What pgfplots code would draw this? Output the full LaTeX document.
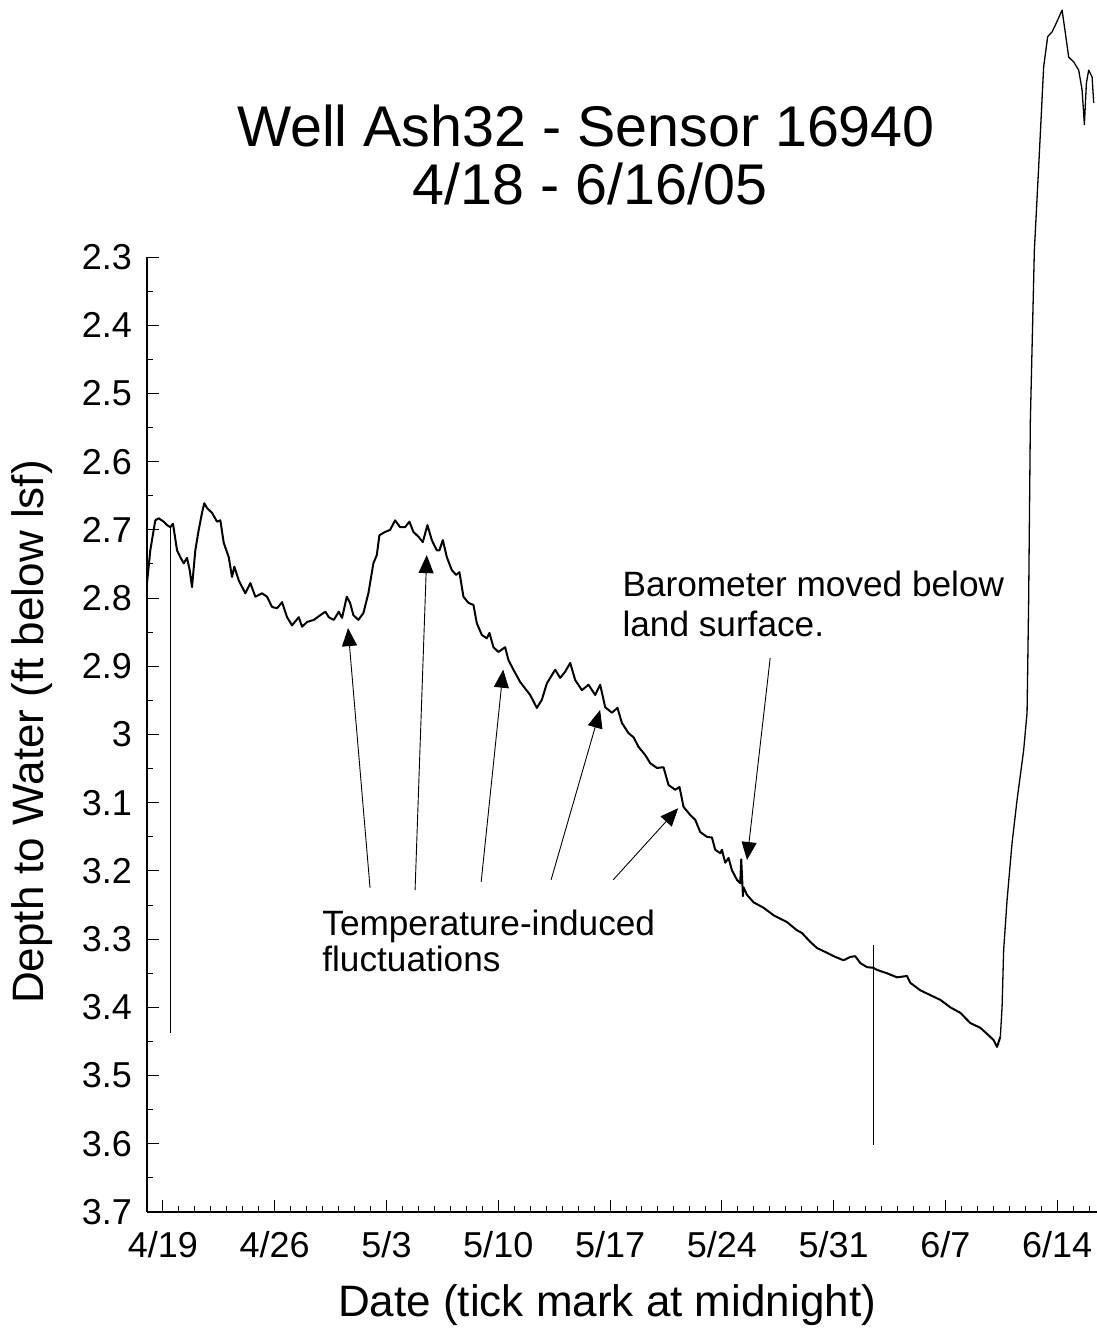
\documentclass[border=0pt]{standalone}
\usepackage{fontspec}
\setmainfont{Liberation Sans}
\usepackage{pgfplots}
\pgfplotsset{compat=1.18}
\usetikzlibrary{arrows.meta}

\begin{document}
\begin{tikzpicture}
\path[use as bounding box] (-73.5pt,-60.5pt) rectangle (475pt,606pt);
\begin{axis}[
  width=475pt, height=477.5pt, scale only axis,
  xmin=0, xmax=59.5, ymin=2.3, ymax=3.7, y dir=reverse,
  axis x line=bottom, axis y line=left,
  axis line style={-, line width=0.6pt},
  clip=false,
  xtick={1,8,15,22,29,36,43,50,57},
  xticklabels={4/19,4/26,5/3,5/10,5/17,5/24,5/31,6/7,6/14},
  minor xtick={0,...,59},
  ytick={2.3,2.4,2.5,2.6,2.7,2.8,2.9,3.0,3.1,3.2,3.3,3.4,3.5,3.6,3.7},
  yticklabels={2.3,2.4,2.5,2.6,2.7,2.8,2.9,3,3.1,3.2,3.3,3.4,3.5,3.6,3.7},
  minor ytick={2.35,2.45,2.55,2.65,2.75,2.85,2.95,3.05,3.15,3.25,3.35,3.45,3.55,3.65},
  tick align=inside,
  major tick length=6pt, minor tick length=3pt,
  every tick/.style={black, line width=0.5pt},
  tick label style={font=\fontsize{18}{20}\selectfont},
  yticklabel style={xshift=-4pt},
  xticklabel style={yshift=-6pt},
  /pgf/number format/assume math mode=true,
]
% noisy record up to the low point on 6/10
\addplot[black, line width=1.0pt, line join=round] table {
0 2.778
0.207 2.730
0.52 2.686
0.733 2.683
1.046 2.688
1.253 2.693
1.46 2.696
1.629 2.691
1.88 2.730
2.086 2.740
2.3 2.749
2.506 2.741
2.675 2.759
2.82 2.784
3.026 2.730
3.24 2.700
3.446 2.675
3.59 2.661
3.76 2.668
4.073 2.675
4.386 2.688
4.593 2.686
4.806 2.719
5.119 2.740
5.326 2.769
5.47 2.754
5.746 2.774
6.159 2.793
6.473 2.778
6.786 2.798
7.206 2.793
7.519 2.798
7.832 2.813
8.145 2.815
8.459 2.806
8.772 2.828
9.085 2.840
9.505 2.828
9.712 2.842
10.025 2.835
10.445 2.832
10.858 2.825
11.172 2.820
11.385 2.828
11.698 2.832
12.011 2.820
12.218 2.829
12.512 2.798
12.719 2.807
12.926 2.825
13.239 2.832
13.553 2.822
13.866 2.793
14.179 2.749
14.392 2.737
14.555 2.708
14.912 2.703
15.226 2.700
15.539 2.686
15.852 2.696
16.165 2.696
16.435 2.688
16.685 2.703
16.999 2.710
17.274 2.718
17.563 2.693
17.838 2.715
18.151 2.730
18.315 2.730
18.527 2.715
18.778 2.740
19.091 2.759
19.361 2.766
19.568 2.762
19.818 2.798
20.132 2.807
20.445 2.810
20.658 2.837
20.971 2.854
21.284 2.859
21.447 2.851
21.698 2.872
22.011 2.879
22.431 2.872
22.638 2.891
22.951 2.905
23.37 2.923
23.997 2.942
24.417 2.961
24.73 2.949
25.044 2.925
25.564 2.905
25.877 2.917
26.19 2.908
26.504 2.895
26.817 2.920
27.237 2.935
27.65 2.927
28.07 2.942
28.383 2.927
28.697 2.960
29.117 2.968
29.467 2.961
29.743 2.983
30.156 2.998
30.47 3.004
30.783 3.018
31.203 3.030
31.516 3.042
31.936 3.049
32.35 3.048
32.663 3.074
33.083 3.081
33.352 3.077
33.603 3.106
34.023 3.118
34.336 3.125
34.649 3.143
35.069 3.150
35.382 3.151
35.589 3.169
35.902 3.174
36.009 3.169
36.216 3.188
36.422 3.181
36.635 3.199
36.949 3.213
37.155 3.218
37.218 3.183
37.325 3.237
37.362 3.224
37.575 3.235
37.989 3.246
38.615 3.254
39.242 3.265
40.081 3.275
40.708 3.287
41.021 3.291
41.541 3.304
41.961 3.313
42.588 3.320
43.108 3.326
43.628 3.331
44.048 3.326
44.361 3.325
44.674 3.335
45.094 3.341
45.49 3.342
45.72 3.345
46.347 3.350
46.974 3.356
47.6 3.354
47.807 3.364
48.434 3.375
49.06 3.382
49.687 3.389
50.313 3.400
50.94 3.408
51.566 3.423
52.193 3.430
52.713 3.441
53.026 3.448
53.239 3.458
53.446 3.443
};
% sharp recovery after 6/10
\addplot[black, line width=0.65pt, line join=round] table {
53.446 3.443
53.553 3.400
53.653 3.316
53.866 3.243
54.179 3.159
54.492 3.096
54.906 3.023
55.119 2.968
55.219 2.803
55.326 2.539
55.576 2.290
55.846 2.168
56.159 2.021
56.41 1.977
56.685 1.970
56.892 1.960
57.312 1.938
57.519 1.972
57.726 2.007
58.039 2.014
58.352 2.026
58.565 2.055
58.709 2.106
58.835 2.045
58.979 2.026
59.192 2.036
59.292 2.074
};
% single-reading spikes
\addplot[black, line width=0.5pt] table {
1.47 2.696
1.47 3.438
};
\addplot[black, line width=0.6pt] table {
45.49 3.309
45.49 3.602
};
\begin{scope}[line width=0.45pt, -{Triangle[length=9pt,width=7.5pt]}]
\draw (axis cs:13.97,3.225) -- (axis cs:12.59,2.844);
\draw (axis cs:16.79,3.228) -- (axis cs:17.52,2.737);
\draw (axis cs:20.93,3.216) -- (axis cs:22.31,2.905);
\draw (axis cs:25.31,3.213) -- (axis cs:28.38,2.964);
\draw (axis cs:29.2,3.213) -- (axis cs:33.27,3.108);
\draw (axis cs:39.03,2.888) -- (axis cs:37.58,3.184);
\end{scope}
\node[anchor=base west, inner sep=0pt, font=\fontsize{17.6}{20}\selectfont] at (axis cs:10.96,3.294) {Temperature-induced};
\node[anchor=base west, inner sep=0pt, font=\fontsize{17.6}{20}\selectfont] at (axis cs:10.96,3.348) {fluctuations};
\node[anchor=base west, inner sep=0pt, font=\fontsize{17.6}{20}\selectfont] at (axis cs:29.76,2.798) {Barometer moved below};
\node[anchor=base west, inner sep=0pt, font=\fontsize{17.6}{20}\selectfont] at (axis cs:29.76,2.856) {land surface.};
\end{axis}
\node[anchor=base, inner sep=0pt, font=\fontsize{28.7}{30}\selectfont] at (219.5pt,532.5pt) {Well Ash32 - Sensor 16940};
\node[anchor=base, inner sep=0pt, font=\fontsize{28.7}{30}\selectfont] at (221.5pt,503.5pt) {4/18 - 6/16/05};
\node[anchor=base, inner sep=0pt, font=\fontsize{22}{24}\selectfont] at (230pt,-52pt) {Date (tick mark at midnight)};
\node[anchor=base, rotate=90, inner sep=0pt, font=\fontsize{22}{24}\selectfont] at (-51.5pt,240pt) {Depth to Water (ft below lsf)};
\end{tikzpicture}
\end{document}
